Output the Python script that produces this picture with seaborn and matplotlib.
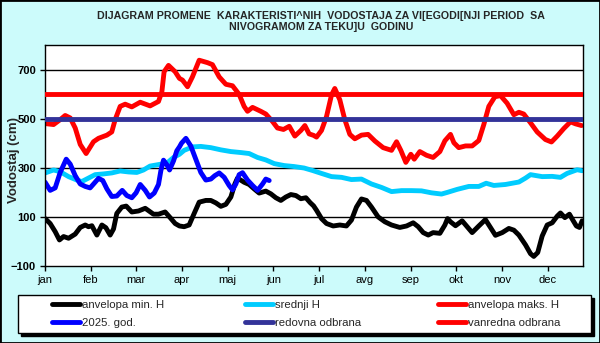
import numpy as np
import pandas as pd
import matplotlib
matplotlib.use("Agg")
import matplotlib.pyplot as plt
import seaborn as sns
from matplotlib.patches import Rectangle
from matplotlib.lines import Line2D

# ---------------- data (day of year, water level cm) ----------------
max_days = [0.1, 5.8, 10.3, 13.7, 17.1, 20.5, 23.9, 27.9, 32.9, 36.3, 42, 45.3, 47.6, 51, 54.4, 58.9, 64.6,
            71.3, 77, 79.3, 80.8, 83.8, 88.3, 91.2, 93.3, 96.7, 100, 104.6, 110.3, 113.6, 118.2, 122.7,
            127.2, 131.7, 135.1, 137.4, 140.8, 146.4, 149.8, 154.3, 157.7, 161.8, 165.7, 169.5, 173.6,
            176.3, 179.2, 182.2, 184.2, 187.6, 191, 194.4, 196.6, 200, 203.4, 206.8, 210.2, 214.7, 219.2,
            223.8, 229.4, 235.1, 238.5, 241.4, 244.8, 248.2, 250.5, 254.3, 258.8, 263.3, 267.9, 271.3,
            275.1, 277.4, 280.7, 285.3, 289.8, 294.3, 297.7, 301.1, 305.2, 309, 313.5, 318.1, 321.5,
            324.8, 329.4, 333.9, 339.5, 343.6, 347.5, 352, 356.5, 359.9, 364]
max_vals = [480, 476, 496, 513, 503, 462, 395, 358, 406, 420, 433, 446, 496, 550, 559, 548, 567,
            552, 570, 610, 691, 717, 691, 664, 657, 630, 670, 738, 728, 720, 670, 640,
            634, 599, 550, 530, 546, 530, 519, 489, 462, 456, 469, 429, 452,
            472, 438, 432, 425, 452, 509, 597, 623, 577, 496, 436, 418, 433, 436,
            409, 382, 371, 406, 371, 322, 355, 335, 366, 351, 342, 366, 410,
            436, 402, 382, 389, 389, 411, 476, 550, 589, 594, 563, 516, 526,
            519, 483, 446, 415, 405, 429, 460, 487, 479, 472]

mean_days = [0.1, 5.8, 10.3, 16, 21.6, 25, 29.5, 34, 39.7, 45.3, 51, 56.7, 62.3, 66.8, 71.3, 77, 82.7,
             87.2, 91.2, 94.4, 100.1, 105.7, 112.5, 119.3, 126.1, 132.9, 138.5, 144.2, 149.8, 155.5,
             162.3, 169, 175.8, 181.5, 187.6, 194.4, 201.2, 207.9, 214.7, 221.5, 228.3, 235.1, 241.9,
             248.6, 255.4, 262.2, 269, 273.1, 279.6, 287.5, 294.3, 299.3, 304.5, 312.4, 321.5, 326,
             329.4, 337.3, 344.1, 349.7, 354.2, 361, 364.4]
mean_vals = [279, 291, 284, 264, 250, 244, 258, 272, 275, 279, 287, 283, 281, 291, 307, 313, 319,
             342, 355, 371, 385, 387, 382, 373, 366, 362, 358, 342, 332, 317,
             309, 305, 299, 289, 277, 264, 261, 252, 254, 234, 220, 203, 207,
             207, 206, 198, 193, 200, 212, 224, 224, 237, 228, 232, 242, 258,
             272, 264, 265, 261, 277, 292, 288]

min_days = [0.1, 3.5, 6.9, 9.8, 12.6, 16, 20.5, 23.9, 27.3, 29.5, 31.8, 35.2, 38.6, 41.3, 44.2, 46.5,
            48.7, 52.1, 55.1, 58.9, 63.4, 68, 73.6, 77, 81.5, 84.9, 88.3, 91.2, 94.4, 97.8, 101.2,
            104.6, 109.1, 112.5, 115.9, 119.3, 122.7, 126.1, 128.8, 130.6, 135.1, 138.5, 141.9, 145.3,
            149.8, 153.2, 156.6, 160, 163.4, 166.8, 170.2, 173.6, 177, 179.9, 182.2, 184.2, 187.6, 191,
            195.5, 200, 204.5, 207.9, 211.3, 214.7, 218.1, 221.5, 226, 230.6, 235.1, 240.7, 245.3,
            249.8, 253.2, 256.6, 260, 263.3, 267.9, 271.3, 273.1, 275.1, 278.5, 283, 286.4, 289.8,
            294.3, 298.8, 302.2, 305.6, 310.2, 314.7, 318.1, 321.5, 326, 329.4, 331.6, 334.3, 337.3,
            340.7, 344.1, 347.5, 349.7, 352.7, 355.8, 358.1, 360.5, 362.6, 364.4]
min_vals = [93, 73, 40, 6, 20, 13, 30, 57, 67, 60, 64, 26, 67, 56, 26, 51,
            114, 140, 144, 120, 124, 135, 111, 111, 120, 97, 73, 63, 60, 67, 114,
            160, 167, 167, 157, 143, 151, 181, 234, 258, 241, 232, 214, 197,
            205, 194, 178, 167, 181, 191, 187, 174, 178, 158, 145, 127, 93, 73,
            63, 67, 63, 87, 140, 173, 167, 140, 100, 80, 67, 57, 63,
            76, 60, 36, 26, 36, 33, 67, 93, 80, 64, 84, 60, 36,
            63, 89, 57, 25, 36, 53, 46, 26, -14, -50, -61, -45, 22,
            67, 76, 103, 116, 97, 111, 87, 63, 57, 84]

cur_days = [0.1, 3.5, 6.9, 10.3, 14.4, 17.1, 20.5, 23.9, 27.3, 30.6, 33.4, 36.3, 39.2, 42, 45.3, 48.7,
            52.4, 55.5, 58.9, 61.8, 64.6, 68, 70.9, 74.1, 77, 78.6, 80.4, 82.7, 84.5, 87.2, 89.4, 91.2,
            92.6, 95.6, 98.9, 102.3, 105.7, 109.1, 112.5, 115.2, 118.2, 121.6, 124.9, 127.2, 129.5,
            131.7, 134, 137.4, 140.8, 144.2, 147.6, 149.8, 152.1]
cur_vals = [241, 208, 218, 281, 335, 315, 268, 234, 224, 218, 237, 257, 248, 214, 183, 185,
            208, 187, 178, 198, 232, 208, 181, 197, 232, 288, 331, 312, 291, 328, 369, 385,
            400, 420, 389, 335, 281, 250, 254, 268, 279, 261, 228, 210, 234,
            272, 280, 250, 228, 208, 234, 254, 248]

redovna = 500
vanredna = 600

month_ticks = [0, 31, 62, 93, 124, 155, 186, 217, 248, 279, 310, 341]
month_labels = ["jan", "feb", "mar", "apr", "maj", "jun", "jul", "avg", "sep", "okt", "nov", "dec"]
y_ticks = [-100, 100, 300, 500, 700]

title_text = ("DIJAGRAM PROMENE  KARAKTERISTI^NIH  VODOSTAJA ZA VI[EGODI[NJI PERIOD  SA\n"
              "NIVOGRAMOM ZA TEKU]U  GODINU")
labels = ["anvelopa min. H", "srednji H", "anvelopa maks. H",
          "2025. god.", "redovna odbrana", "vanredna odbrana"]

# ---------------- style ----------------
sns.set_theme(style="white")
plt.rcParams["font.family"] = ["Liberation Sans", "DejaVu Sans"]

BG = "#ccfbfb"
C_MIN, C_MEAN, C_MAX = "#000000", "#00ccff", "#ff0000"
C_CUR, C_RED, C_VAN = "#0000ff", "#333399", "#ff0000"
LW = 3.5

fig = plt.figure(figsize=(6.0, 3.43), dpi=100)
fig.patch.set_facecolor(BG)
W, H = 600.0, 343.0

ax = fig.add_axes([45 / W, 1 - 266 / H, (583 - 45) / W, (266 - 45) / H])
ax.set_facecolor("white")

kw = dict(estimator=None, sort=False, legend=False, ax=ax)
line_kw = dict(solid_capstyle="round", solid_joinstyle="round")
sns.lineplot(x=min_days, y=min_vals, color=C_MIN, linewidth=LW, **kw, **line_kw)
sns.lineplot(x=mean_days, y=mean_vals, color=C_MEAN, linewidth=LW, **kw, **line_kw)
sns.lineplot(x=max_days, y=max_vals, color=C_MAX, linewidth=LW, **kw, **line_kw)
sns.lineplot(x=cur_days, y=cur_vals, color=C_CUR, linewidth=LW, **kw, **line_kw)
ax.axhline(redovna, color=C_RED, linewidth=LW, zorder=3)
ax.axhline(vanredna, color=C_VAN, linewidth=LW, zorder=3)

ax.set_xlim(0, 365)
ax.set_ylim(-100, 800)
ax.set_xticks(month_ticks)
ax.set_xticklabels(month_labels)
ax.set_yticks(y_ticks)
ax.set_xlabel("")
ax.set_ylabel("")
for yv in y_ticks[1:]:
    ax.axhline(yv, color="black", linewidth=1.0, zorder=1)
for s in ax.spines.values():
    s.set_color("black")
    s.set_linewidth(1.0)
ax.tick_params(axis="both", direction="out", length=3.5, width=1, color="black",
               labelcolor="black", bottom=True, left=True)
ax.tick_params(axis="x", pad=3, labelsize=8)
ax.tick_params(axis="y", pad=3, labelsize=8)
for t in ax.get_yticklabels():
    t.set_fontweight("bold")

# title and y label
fig.text(321 / W, 1 - 21.5 / H, title_text, ha="center", va="center", fontsize=7.7,
         fontweight="bold", linespacing=1.1, family=["Liberation Sans Narrow", "Liberation Sans"])
fig.text(14 / W, 1 - 160 / H, "Vodostaj (cm)", rotation=90, ha="center", va="center",
         fontsize=9.5, fontweight="bold")

# legend box with shadow
fig.patches.append(Rectangle((21 / W, 1 - 336 / H), (591 - 18) / W, (333 - 295) / H,
                             transform=fig.transFigure, facecolor="black", edgecolor="black",
                             zorder=1))
fig.patches.append(Rectangle((18 / W, 1 - 333 / H), (591 - 18) / W, (333 - 295) / H,
                             transform=fig.transFigure, facecolor="white", edgecolor="black",
                             linewidth=1.0, zorder=2))

colors = [C_MIN, C_MEAN, C_MAX, C_CUR, C_RED, C_VAN]
handles = [Line2D([0], [0], color=c, linewidth=LW) for c in colors]
col_x = [52, 245, 438]
for i in range(3):
    lg = fig.legend([handles[i], handles[i + 3]], [labels[i], labels[i + 3]],
                    loc="center left", bbox_to_anchor=(col_x[i] / W, 1 - 314 / H),
                    frameon=False, fontsize=8.2, handlelength=2.5, handletextpad=0.1,
                    borderpad=0, borderaxespad=0, labelspacing=0.75)
    lg.set_zorder(5)

# figure border
fig.patches.append(Rectangle((0, 0), 1, 1, transform=fig.transFigure, fill=False,
                             edgecolor="black", linewidth=2.0, zorder=10))

fig.savefig("out.png", dpi=100, facecolor=BG)
